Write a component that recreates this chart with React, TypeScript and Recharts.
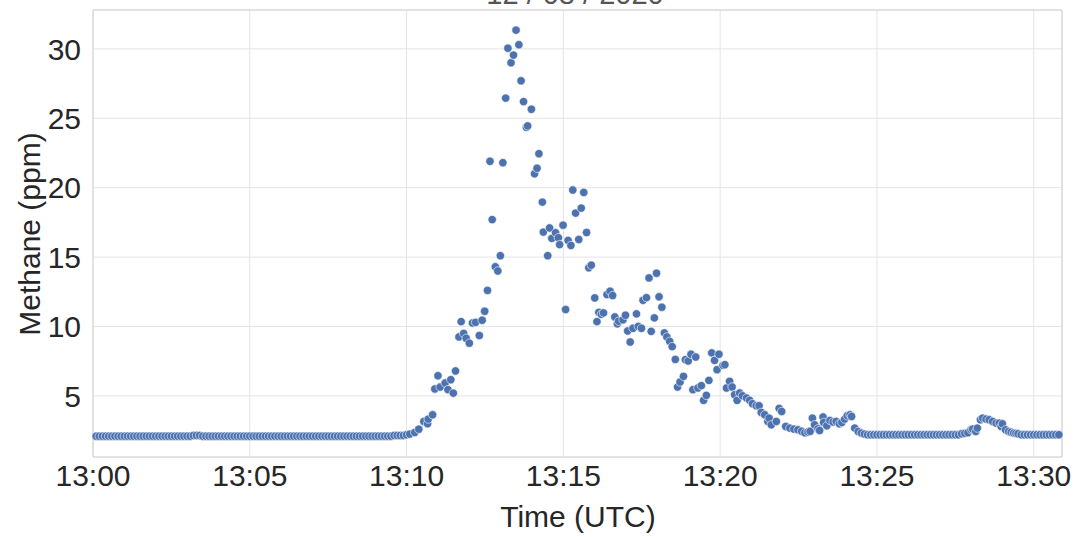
import { ScatterChart, Scatter, XAxis, YAxis, CartesianGrid, ReferenceArea } from "recharts";

// minutes after 13:00 UTC, methane in ppm
const leadMinutes = [
  0.1, 0.2, 0.3, 0.4, 0.5, 0.6, 0.7, 0.8, 0.9,
  1, 1.1, 1.2, 1.3, 1.4, 1.5, 1.6, 1.7, 1.8, 1.9,
  2, 2.1, 2.2, 2.3, 2.4, 2.5, 2.6, 2.7, 2.8, 2.9,
  3, 3.1, 3.2, 3.3, 3.4, 3.5, 3.6, 3.7, 3.8, 3.9,
  4, 4.1, 4.2, 4.3, 4.4, 4.5, 4.6, 4.7, 4.8, 4.9,
  5, 5.1, 5.2, 5.3, 5.4, 5.5, 5.6, 5.7, 5.8, 5.9,
  6, 6.1, 6.2, 6.3, 6.4, 6.5, 6.6, 6.7, 6.8, 6.9,
  7, 7.1, 7.2, 7.3, 7.4, 7.5, 7.6, 7.7, 7.8, 7.9,
  8, 8.1, 8.2, 8.3, 8.4, 8.5, 8.6, 8.7, 8.8, 8.9,
  9, 9.1, 9.2, 9.3, 9.4, 9.5, 9.6, 9.7, 9.8,
];
const leadPpm = [
  2.1, 2.1, 2.1, 2.1, 2.1, 2.1, 2.1, 2.1, 2.1,
  2.1, 2.1, 2.1, 2.1, 2.1, 2.1, 2.1, 2.1, 2.1, 2.1,
  2.1, 2.1, 2.1, 2.1, 2.1, 2.1, 2.1, 2.1, 2.1, 2.1,
  2.1, 2.1, 2.15, 2.15, 2.15, 2.1, 2.1, 2.1, 2.1, 2.1,
  2.1, 2.1, 2.1, 2.1, 2.1, 2.1, 2.1, 2.1, 2.1, 2.1,
  2.1, 2.1, 2.1, 2.1, 2.1, 2.1, 2.1, 2.1, 2.1, 2.1,
  2.1, 2.1, 2.1, 2.1, 2.1, 2.1, 2.1, 2.1, 2.1, 2.1,
  2.1, 2.1, 2.1, 2.1, 2.1, 2.1, 2.1, 2.1, 2.1, 2.1,
  2.1, 2.1, 2.1, 2.1, 2.1, 2.1, 2.1, 2.1, 2.1, 2.1,
  2.1, 2.1, 2.1, 2.1, 2.1, 2.1, 2.15, 2.15, 2.15,
];

const plumeMinutes = [
  9.9, 10, 10.1, 10.26, 10.39, 10.55, 10.67, 10.69, 10.83, 10.9,
  11, 11.07, 11.23, 11.32, 11.41, 11.49, 11.56, 11.67, 11.74, 11.82,
  11.9, 12, 12.1, 12.2, 12.32, 12.41, 12.49, 12.58, 12.66, 12.73,
  12.83, 12.91, 12.99, 13.07, 13.16, 13.23, 13.33, 13.41, 13.49, 13.58,
  13.65, 13.73, 13.82, 13.86, 13.98, 14.08, 14.16, 14.22, 14.33, 14.36,
  14.5, 14.56, 14.63, 14.75, 14.84, 14.88, 14.99, 15.07, 15.15, 15.24,
  15.3, 15.39, 15.49, 15.57, 15.65, 15.74, 15.81, 15.89, 16, 16.07,
  16.13, 16.21, 16.28, 16.39, 16.49, 16.57, 16.64, 16.72, 16.76, 16.9,
  16.98, 17.05, 17.13, 17.22, 17.33, 17.39, 17.49, 17.54, 17.65, 17.73,
  17.8, 17.9, 17.97, 18.05, 18.14, 18.22, 18.3, 18.39, 18.47, 18.57,
  18.64, 18.72, 18.83, 18.89, 18.98, 19.07, 19.13, 19.22, 19.29, 19.4,
  19.47, 19.56, 19.64, 19.73, 19.82, 19.9, 19.96, 20.09, 20.15, 20.2,
  20.3, 20.38, 20.46, 20.54, 20.62, 20.71, 20.84, 20.94, 21.03, 21.15,
  21.24, 21.31, 21.42, 21.52, 21.56, 21.63, 21.79, 21.88, 21.96, 22.09,
  22.22, 22.35, 22.48, 22.6, 22.7, 22.8, 22.87, 22.94, 23.01, 23.12,
  23.17, 23.28, 23.3, 23.4, 23.5, 23.6, 23.7, 23.8, 23.88, 23.97,
  24.05, 24.14, 24.19, 24.29, 24.4, 24.5, 24.6,
];
const plumePpm = [
  2.15, 2.2, 2.25, 2.37, 2.6, 3.16, 3.0, 3.33, 3.64, 5.5,
  6.45, 5.64, 5.93, 5.45, 6.17, 5.2, 6.8, 9.25, 10.35, 9.5,
  9.15, 8.8, 10.25, 10.3, 9.35, 10.45, 11.1, 12.6, 21.9, 17.7,
  14.3, 14.0, 15.1, 21.8, 26.45, 30.05, 29.0, 29.55, 31.35, 30.3,
  27.7, 26.2, 24.35, 24.45, 25.65, 21.0, 21.4, 22.45, 18.96, 16.8,
  15.1, 17.1, 16.35, 16.75, 16.4, 15.9, 17.3, 11.22, 16.2, 15.84,
  19.83, 18.17, 16.27, 18.53, 19.66, 16.77, 14.23, 14.42, 12.06, 10.35,
  11.02, 10.88, 10.98, 12.3, 12.54, 12.23, 10.69, 10.19, 10.38, 10.48,
  10.81, 9.68, 8.88, 9.87, 10.91, 10.01, 9.87, 11.89, 12.08, 13.5,
  9.65, 10.62, 13.84, 12.14, 11.39, 9.54, 9.25, 8.93, 8.55, 7.63,
  5.64, 6.0, 6.41, 7.61, 7.52, 8.0, 5.45, 7.8, 5.57, 5.74,
  4.68, 5.04, 6.12, 8.1, 7.56, 6.89, 8.0, 7.2, 7.25, 5.57,
  6.05, 5.64, 5.09, 4.68, 5.21, 5.01, 4.85, 4.68, 4.44, 4.29,
  4.29, 3.81, 3.64, 3.16, 3.4, 2.92, 3.16, 4.1, 3.88, 2.8,
  2.68, 2.61, 2.56, 2.45, 2.35, 2.4, 2.45, 3.4, 2.92, 2.63,
  2.51, 3.48, 3.09, 2.85, 3.23, 3.12, 3.16, 2.99, 3.09, 3.33,
  3.57, 3.64, 3.52, 2.68, 2.44, 2.32, 2.25,
];

const quietMinutes = [
  24.7, 24.8, 24.9, 25, 25.1, 25.2, 25.3, 25.4, 25.5, 25.6,
  25.7, 25.8, 25.9, 26, 26.1, 26.2, 26.3, 26.4, 26.5, 26.6,
  26.7, 26.8, 26.9, 27, 27.1, 27.2, 27.3, 27.4, 27.5, 27.6,
];
const quietPpm = [
  2.2, 2.2, 2.2, 2.2, 2.2, 2.2, 2.2, 2.2, 2.2, 2.2,
  2.2, 2.2, 2.2, 2.2, 2.2, 2.2, 2.2, 2.2, 2.2, 2.2,
  2.2, 2.2, 2.2, 2.2, 2.2, 2.2, 2.2, 2.2, 2.2, 2.2,
];

const bumpMinutes = [
  27.7, 27.8, 27.9, 28, 28.05, 28.15, 28.2, 28.3, 28.37, 28.48,
  28.58, 28.69, 28.8, 28.9, 28.96, 29, 29.1, 29.2, 29.28, 29.36,
  29.43, 29.5,
];
const bumpPpm = [
  2.27, 2.3, 2.35, 2.56, 2.61, 2.44, 2.68, 3.28, 3.4, 3.33,
  3.28, 3.16, 3.04, 3.04, 2.8, 2.99, 2.56, 2.44, 2.38, 2.32,
  2.3, 2.27,
];

const tailMinutes = [
  29.6, 29.7, 29.8, 29.9, 30, 30.1, 30.2, 30.3, 30.4, 30.5,
  30.6, 30.7, 30.8,
];
const tailPpm = [
  2.2, 2.2, 2.2, 2.2, 2.2, 2.2, 2.2, 2.2, 2.2, 2.2,
  2.2, 2.2, 2.2,
];

const xTicks = [0, 5, 10, 15, 20, 25, 30];
const yTicks = [5, 10, 15, 20, 25, 30];

const FONT = "'Liberation Sans', Arial, sans-serif";
const TEXT = "#262626";

const points = [
  ...leadMinutes.map((t, i) => ({ t, ppm: leadPpm[i] })),
  ...plumeMinutes.map((t, i) => ({ t, ppm: plumePpm[i] })),
  ...quietMinutes.map((t, i) => ({ t, ppm: quietPpm[i] })),
  ...bumpMinutes.map((t, i) => ({ t, ppm: bumpPpm[i] })),
  ...tailMinutes.map((t, i) => ({ t, ppm: tailPpm[i] })),
];

const Dot = (props: any) => (
  <circle cx={props.cx} cy={props.cy} r={4.2} fill="#4C72B0" stroke="#ffffff" strokeWidth={0.6} />
);

export default function App() {
  return (
    <div style={{ position: "absolute", left: 0, top: 0, width: 1074, height: 537, background: "#fff" }}>
      <ScatterChart width={1074} height={537} margin={{ top: 10, right: 12, left: 0, bottom: 0 }}>
        <CartesianGrid stroke="#e4e4e4" strokeWidth={1} />
        <ReferenceArea x1={0} x2={30.9} y1={0.6} y2={32.8} fill="none" stroke="#d2d2d2" strokeWidth={1} />
        <XAxis
          type="number"
          dataKey="t"
          domain={[0, 30.9]}
          ticks={xTicks}
          tickFormatter={(v: number) => `13:${String(v).padStart(2, "0")}`}
          axisLine={false}
          tickLine={false}
          tickSize={0}
          tickMargin={8}
          height={80}
          tick={{ fontSize: 30, fill: TEXT, fontFamily: FONT }}
          label={{
            content: () => (
              <text x={578} y={527} textAnchor="middle" fontSize={30} fill={TEXT} fontFamily={FONT}>
                Time (UTC)
              </text>
            ),
          }}
        />
        <YAxis
          type="number"
          dataKey="ppm"
          domain={[0.6, 32.8]}
          ticks={yTicks}
          axisLine={false}
          tickLine={false}
          tickSize={0}
          tickMargin={12}
          width={93}
          tick={{ fontSize: 30, fill: TEXT, fontFamily: FONT }}
          label={{
            content: () => (
              <text
                x={29}
                y={234}
                transform="rotate(-90 29 234)"
                textAnchor="middle"
                dominantBaseline="central"
                fontSize={30}
                fill={TEXT}
                fontFamily={FONT}
              >
                Methane (ppm)
              </text>
            ),
          }}
        />
        <Scatter data={points} shape={Dot} isAnimationActive={false} />
        <text x={575} y={4} textAnchor="middle" fontSize={29} fill="#555" fontFamily={FONT}>
          12 / 08 / 2020
        </text>
      </ScatterChart>
    </div>
  );
}
